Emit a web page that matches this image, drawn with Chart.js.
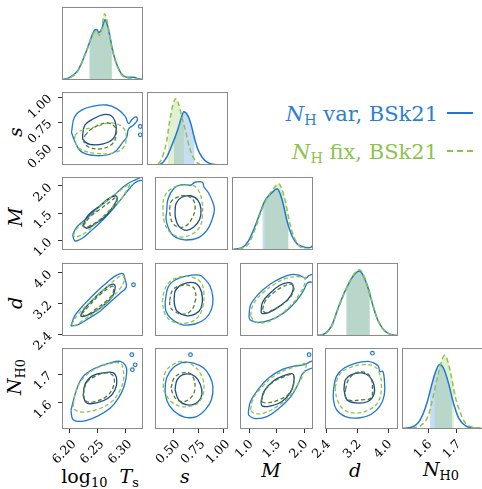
<!DOCTYPE html>
<html>
<head>
<meta charset="utf-8">
<script src="https://cdn.jsdelivr.net/npm/chart.js@4.4.1/dist/chart.umd.min.js"></script>
<style>
html, body { margin: 0; padding: 0; background: #fff; overflow: hidden; }
#fig { position: relative; width: 482px; height: 489px; overflow: hidden; }
#fig canvas { position: absolute; }
.lab { position: absolute; font-family: "DejaVu Serif", serif; font-size: 19px; line-height: 19px; color: #000; white-space: nowrap; }
.sb { font-size: 0.68em; position: relative; top: 0.28em; font-style: normal; }
.rot { transform: translate(-50%, -50%) rotate(-90deg); }
.cx { transform: translateX(-50%); }
.leg { position: absolute; right: 44px; font-family: "DejaVu Serif", serif; font-size: 21px; line-height: 21px; white-space: nowrap; }
.mark { position: absolute; left: 447px; width: 26px; height: 0; }
</style>
</head>
<body>
<div id="fig">
  <div class="leg" style="top:104px;color:#2a7fd3"><i>N</i><span class="sb">H</span> var, BSk21</div>
  <div class="mark" style="top:112px;border-top:2px solid #1f77d0"></div>
  <div class="leg" style="top:142px;color:#8cc34b"><i>N</i><span class="sb">H</span> fix, BSk21</div>
  <div class="mark" style="top:150px;border-top:2px dashed #8cc34b"></div>

  <div class="lab cx" style="left:100px;top:467px">log<span class="sb">10</span>&nbsp;&nbsp;<i>T</i><span class="sb">s</span></div>
  <div class="lab cx" style="left:185px;top:467px"><i>s</i></div>
  <div class="lab cx" style="left:271px;top:461px"><i>M</i></div>
  <div class="lab cx" style="left:355px;top:461px"><i>d</i></div>
  <div class="lab cx" style="left:441px;top:460px"><i>N</i><span class="sb">H0</span></div>

  <div class="lab rot" style="left:15px;top:132px"><i>s</i></div>
  <div class="lab rot" style="left:15px;top:217px"><i>M</i></div>
  <div class="lab rot" style="left:15px;top:303px"><i>d</i></div>
  <div class="lab rot" style="left:15px;top:377px"><i>N</i><span class="sb">H0</span></div>
</div>
<script>
// parameters: log10 Ts, s, M, d, NH0
const ranges = [[6.187, 6.332], [0.32, 1.05], [0.828, 2.163], [2.357, 4.255], [1.510, 1.790]];
const tickVals = [[6.20, 6.25, 6.30], [0.50, 0.75, 1.00], [1.0, 1.5, 2.0], [2.4, 3.2, 4.0], [1.6, 1.7]];
const tickDigits = [2, 2, 1, 1, 1];

// 1D marginals [value, density]
const tsVar = [[6.189,.01],[6.198,.025],[6.216,.14],[6.228,.346],[6.234,.47],[6.240,.60],[6.245,.683],[6.249,.695],[6.253,.655],[6.258,.70],[6.262,.80],[6.264,.83],[6.269,.737],[6.273,.593],[6.277,.428],[6.282,.284],[6.288,.16],[6.294,.078],[6.303,.037],[6.315,.037],[6.324,.016],[6.331,.008]];
const tsFix = [[6.189,.005],[6.198,.02],[6.216,.13],[6.228,.34],[6.234,.46],[6.240,.59],[6.245,.66],[6.248,.675],[6.254,.617],[6.258,.70],[6.261,.85],[6.263,.914],[6.267,.84],[6.273,.58],[6.277,.42],[6.282,.27],[6.288,.15],[6.294,.07],[6.303,.03],[6.315,.02],[6.324,.01],[6.331,.004]];
const sVar = [[0.33,0],[0.376,.002],[0.435,.008],[0.495,.099],[0.554,.305],[0.599,.49],[0.628,.634],[0.652,.724],[0.687,.675],[0.717,.552],[0.747,.366],[0.776,.222],[0.82,.099],[0.865,.037],[0.925,.008],[1.03,0]];
const sFix = [[0.35,0],[0.406,.008],[0.45,.078],[0.495,.305],[0.524,.593],[0.554,.819],[0.578,.901],[0.607,.819],[0.637,.634],[0.673,.428],[0.702,.243],[0.732,.12],[0.767,.037],[0.806,.004],[0.9,0],[1.03,0]];
const mVar = [[0.852,.01],[0.991,.031],[1.10,.126],[1.211,.331],[1.294,.516],[1.376,.681],[1.487,.784],[1.57,.837],[1.625,.763],[1.68,.599],[1.736,.393],[1.819,.188],[1.901,.084],[2.011,.043],[2.094,.031],[2.13,.04],[2.16,.065]];
const mFix = [[0.934,.01],[1.10,.084],[1.211,.29],[1.322,.558],[1.431,.743],[1.542,.867],[1.597,.907],[1.653,.825],[1.708,.66],[1.774,.393],[1.845,.188],[1.928,.064],[2.039,.01],[2.16,0]];
const dVar = [[2.383,.008],[2.54,.033],[2.696,.136],[2.85,.383],[3.006,.609],[3.163,.794],[3.279,.877],[3.356,.897],[3.433,.843],[3.55,.67],[3.666,.424],[3.783,.218],[3.94,.074],[4.096,.02],[4.236,.008]];
const dFix = [[2.383,.005],[2.54,.03],[2.696,.13],[2.85,.375],[3.006,.605],[3.163,.80],[3.279,.895],[3.356,.917],[3.433,.86],[3.55,.68],[3.666,.43],[3.783,.215],[3.94,.07],[4.096,.018],[4.236,.005]];
const nVar = [[1.510,.008],[1.545,.025],[1.573,.115],[1.596,.321],[1.614,.568],[1.628,.732],[1.641,.806],[1.654,.753],[1.671,.568],[1.688,.321],[1.706,.136],[1.729,.041],[1.752,.012],[1.787,.004]];
const nFix = [[1.545,.008],[1.579,.053],[1.602,.177],[1.619,.424],[1.637,.711],[1.648,.856],[1.657,.917],[1.669,.835],[1.683,.609],[1.694,.403],[1.712,.198],[1.729,.074],[1.752,.025],[1.787,.012]];

// 16-84 % intervals
const qVar = [[6.236, 6.276], [0.563, 0.747], [1.332, 1.752], [3.046, 3.590], [1.607, 1.683]];
const qFix = [[6.237, 6.277], [0.509, 0.652], [1.365, 1.762], [3.050, 3.595], [1.623, 1.689]];

// 2D contours [x, y]
const tsS_varOut = [[6.204,.645],[6.209,.794],[6.222,.869],[6.243,.908],[6.267,.920],[6.285,.884],[6.300,.809],[6.306,.735],[6.313,.78],[6.320,.80],[6.322,.77],[6.315,.72],[6.306,.68],[6.303,.60],[6.297,.556],[6.279,.442],[6.249,.413],[6.222,.451],[6.210,.556]];
const tsS_varIn = [[6.224,.63],[6.228,.72],[6.240,.771],[6.261,.824],[6.276,.809],[6.284,.699],[6.279,.586],[6.261,.532],[6.237,.526],[6.225,.571]];
const tsS_fixOut = [[6.210,.615],[6.219,.66],[6.249,.705],[6.273,.741],[6.294,.705],[6.302,.615],[6.297,.496],[6.279,.442],[6.249,.436],[6.219,.481],[6.210,.556]];
const tsS_fixIn = [[6.228,.615],[6.240,.681],[6.267,.741],[6.282,.699],[6.284,.615],[6.276,.526],[6.255,.481],[6.234,.502],[6.226,.556]];
const tsS_blobs = [[6.327,.705],[6.327,.622]];

const tsM_varOut = [[6.206,1.106],[6.213,1.243],[6.231,1.408],[6.255,1.627],[6.279,1.82],[6.297,1.985],[6.309,2.067],[6.327,2.149],[6.345,2.24],[6.35,2.12],[6.321,2.08],[6.306,1.93],[6.291,1.737],[6.273,1.518],[6.255,1.325],[6.237,1.16],[6.222,1.034],[6.210,0.996]];
const tsM_varIn = [[6.224,1.27],[6.234,1.463],[6.255,1.638],[6.270,1.765],[6.282,1.82],[6.286,1.781],[6.282,1.682],[6.267,1.463],[6.249,1.325],[6.232,1.226]];
const tsM_fixOut = [[6.207,1.089],[6.213,1.215],[6.234,1.408],[6.255,1.627],[6.282,1.847],[6.300,1.985],[6.308,2.039],[6.305,1.957],[6.291,1.737],[6.273,1.573],[6.249,1.325],[6.231,1.16],[6.216,1.078]];
const tsM_fixIn = [[6.225,1.27],[6.237,1.435],[6.255,1.573],[6.273,1.71],[6.285,1.792],[6.284,1.682],[6.273,1.545],[6.255,1.38],[6.237,1.27],[6.228,1.243]];
const tsM_blobs = [];

const tsD_varOut = [[6.203,2.614],[6.210,2.886],[6.228,3.198],[6.249,3.509],[6.270,3.782],[6.285,3.938],[6.296,3.977],[6.300,3.821],[6.302,3.626],[6.291,3.47],[6.273,3.237],[6.255,3.003],[6.234,2.809],[6.216,2.653]];
const tsD_varIn = [[6.220,2.886],[6.228,3.081],[6.246,3.354],[6.267,3.626],[6.279,3.704],[6.282,3.587],[6.276,3.354],[6.255,3.081],[6.237,2.925],[6.224,2.863]];
const tsD_fixOut = [[6.204,2.653],[6.216,2.925],[6.240,3.276],[6.267,3.626],[6.285,3.86],[6.296,3.938],[6.298,3.782],[6.291,3.587],[6.273,3.315],[6.249,3.003],[6.225,2.77],[6.210,2.63]];
const tsD_fixIn = [[6.222,2.925],[6.234,3.12],[6.255,3.432],[6.273,3.626],[6.279,3.642],[6.278,3.47],[6.267,3.276],[6.246,3.042],[6.228,2.886]];
const tsD_blobs = [[6.315,3.689]];

const tsN_varOut = [[6.203,1.574],[6.213,1.646],[6.225,1.692],[6.246,1.720],[6.273,1.738],[6.291,1.744],[6.300,1.732],[6.303,1.709],[6.298,1.657],[6.288,1.617],[6.273,1.582],[6.249,1.553],[6.225,1.537],[6.207,1.542]];
const tsN_varIn = [[6.225,1.623],[6.228,1.663],[6.240,1.692],[6.261,1.704],[6.279,1.704],[6.285,1.680],[6.282,1.646],[6.270,1.617],[6.249,1.60],[6.231,1.60]];
const tsN_fixOut = [[6.207,1.594],[6.213,1.646],[6.228,1.692],[6.249,1.720],[6.273,1.736],[6.291,1.738],[6.296,1.720],[6.297,1.680],[6.288,1.634],[6.273,1.60],[6.249,1.577],[6.225,1.568],[6.210,1.577]];
const tsN_fixIn = [[6.225,1.629],[6.231,1.669],[6.246,1.692],[6.267,1.704],[6.279,1.692],[6.279,1.657],[6.267,1.623],[6.246,1.605],[6.231,1.605]];
const tsN_blobs = [[6.312,1.767],[6.318,1.732],[6.313,1.715]];

const sM_varOut = [[0.436,1.518],[0.451,1.765],[0.511,1.957],[0.586,2.023],[0.675,2.012],[0.72,2.067],[0.794,2.067],[0.809,1.985],[0.854,1.875],[0.89,1.737],[0.914,1.573],[0.89,1.38],[0.839,1.188],[0.75,1.051],[0.615,1.012],[0.511,1.078],[0.451,1.243],[0.430,1.408]];
const sM_varIn = [[0.52,1.518],[0.532,1.682],[0.586,1.792],[0.675,1.82],[0.75,1.737],[0.78,1.573],[0.765,1.38],[0.705,1.243],[0.63,1.188],[0.556,1.27],[0.526,1.408]];
const sM_fixOut = [[0.398,1.573],[0.412,1.792],[0.481,1.946],[0.586,2.012],[0.69,2.012],[0.75,1.93],[0.788,1.737],[0.794,1.463],[0.765,1.243],[0.675,1.106],[0.571,1.067],[0.466,1.16],[0.412,1.353]];
const sM_fixIn = [[0.466,1.573],[0.481,1.71],[0.541,1.792],[0.63,1.82],[0.705,1.737],[0.72,1.573],[0.69,1.408],[0.63,1.27],[0.556,1.243],[0.496,1.325],[0.472,1.463]];
const sM_blobs = [];

const sD_varOut = [[0.421,3.237],[0.451,3.626],[0.526,3.821],[0.645,3.922],[0.765,3.938],[0.809,3.86],[0.869,3.665],[0.899,3.354],[0.884,3.042],[0.824,2.809],[0.72,2.669],[0.586,2.653],[0.481,2.809],[0.430,3.003]];
const sD_varIn = [[0.511,3.315],[0.526,3.549],[0.60,3.704],[0.705,3.743],[0.765,3.626],[0.794,3.354],[0.78,3.081],[0.72,2.925],[0.63,2.886],[0.541,3.003],[0.517,3.159]];
const sD_fixOut = [[0.392,3.237],[0.421,3.587],[0.496,3.821],[0.60,3.899],[0.705,3.876],[0.78,3.743],[0.809,3.47],[0.794,3.081],[0.735,2.809],[0.63,2.692],[0.496,2.731],[0.421,2.925]];
const sD_fixIn = [[0.466,3.276],[0.496,3.549],[0.571,3.665],[0.675,3.665],[0.72,3.549],[0.72,3.237],[0.675,3.003],[0.60,2.925],[0.511,3.003],[0.472,3.12]];
const sD_blobs = [];

const sN_varOut = [[0.586,1.740],[0.705,1.738],[0.809,1.720],[0.869,1.692],[0.899,1.657],[0.884,1.611],[0.824,1.577],[0.735,1.553],[0.615,1.551],[0.511,1.571],[0.442,1.605],[0.421,1.646],[0.436,1.686],[0.496,1.720]];
const sN_varIn = [[0.52,1.646],[0.541,1.680],[0.60,1.698],[0.69,1.698],[0.75,1.680],[0.788,1.646],[0.779,1.617],[0.72,1.597],[0.63,1.594],[0.556,1.611]];
const sN_fixOut = [[0.401,1.652],[0.421,1.704],[0.496,1.732],[0.60,1.744],[0.705,1.729],[0.788,1.692],[0.809,1.646],[0.765,1.605],[0.675,1.589],[0.571,1.589],[0.481,1.605],[0.421,1.634]];
const sN_fixIn = [[0.481,1.652],[0.511,1.686],[0.571,1.701],[0.66,1.704],[0.705,1.686],[0.72,1.652],[0.69,1.623],[0.615,1.605],[0.541,1.611],[0.496,1.634]];
const sN_blobs = [[0.675,1.767]];

const mD_varOut = [[0.992,2.848],[1.02,3.159],[1.157,3.432],[1.377,3.704],[1.596,3.876],[1.761,3.953],[1.899,3.938],[2.036,3.86],[2.09,3.93],[2.18,3.95],[2.18,3.78],[2.064,3.743],[2.008,3.587],[1.926,3.393],[1.789,3.159],[1.596,2.925],[1.377,2.77],[1.157,2.708],[1.02,2.77]];
const mD_varIn = [[1.212,2.964],[1.24,3.237],[1.377,3.47],[1.542,3.665],[1.706,3.743],[1.789,3.704],[1.789,3.509],[1.706,3.315],[1.542,3.12],[1.349,2.964],[1.24,2.941]];
const mD_fixOut = [[1.02,2.886],[1.075,3.198],[1.24,3.47],[1.459,3.704],[1.679,3.86],[1.899,3.899],[2.008,3.86],[2.008,3.704],[1.926,3.47],[1.761,3.159],[1.542,2.886],[1.294,2.708],[1.102,2.731]];
const mD_fixIn = [[1.24,3.042],[1.294,3.276],[1.432,3.47],[1.596,3.626],[1.761,3.704],[1.816,3.626],[1.761,3.393],[1.624,3.198],[1.432,3.042],[1.294,2.964]];
const mD_blobs = [];

const mN_varOut = [[0.981,1.571],[1.02,1.605],[1.157,1.646],[1.349,1.686],[1.596,1.715],[1.816,1.727],[1.981,1.732],[2.064,1.738],[2.17,1.745],[2.17,1.718],[2.135,1.720],[1.981,1.704],[1.899,1.669],[1.761,1.623],[1.542,1.582],[1.322,1.553],[1.102,1.546],[0.992,1.557]];
const mN_varIn = [[1.212,1.60],[1.267,1.640],[1.432,1.675],[1.624,1.694],[1.789,1.701],[1.816,1.680],[1.761,1.640],[1.596,1.605],[1.377,1.589],[1.24,1.589]];
const mN_fixOut = [[1.02,1.577],[1.075,1.617],[1.24,1.657],[1.459,1.694],[1.706,1.717],[1.954,1.732],[2.036,1.738],[2.008,1.709],[1.899,1.669],[1.734,1.623],[1.514,1.589],[1.267,1.565],[1.075,1.565]];
const mN_fixIn = [[1.212,1.605],[1.294,1.646],[1.459,1.675],[1.651,1.692],[1.789,1.698],[1.816,1.675],[1.734,1.634],[1.542,1.611],[1.322,1.60]];
const mN_blobs = [[2.091,1.767]];

const dN_varOut = [[2.577,1.646],[2.655,1.692],[2.849,1.720],[3.161,1.738],[3.472,1.744],[3.628,1.738],[3.745,1.727],[3.784,1.709],[3.862,1.709],[3.90,1.680],[3.90,1.629],[3.784,1.589],[3.55,1.560],[3.239,1.548],[2.888,1.553],[2.655,1.577],[2.577,1.611]];
const dN_varIn = [[2.849,1.646],[2.888,1.680],[3.044,1.698],[3.316,1.704],[3.511,1.692],[3.628,1.663],[3.628,1.629],[3.472,1.605],[3.161,1.60],[2.927,1.611]];
const dN_fixOut = [[2.616,1.652],[2.732,1.698],[2.966,1.720],[3.316,1.732],[3.628,1.727],[3.768,1.704],[3.823,1.657],[3.745,1.605],[3.511,1.577],[3.161,1.565],[2.849,1.577],[2.678,1.611]];
const dN_fixIn = [[2.888,1.646],[2.966,1.680],[3.161,1.704],[3.394,1.706],[3.55,1.686],[3.589,1.652],[3.55,1.617],[3.316,1.611],[3.005,1.609],[2.888,1.623]];
const dN_blobs = [[3.589,1.772]];

const histVar = [tsVar, sVar, mVar, dVar, nVar];
const histFix = [tsFix, sFix, mFix, dFix, nFix];
const pairs = {
  '1,0': [tsS_varOut, tsS_varIn, tsS_fixOut, tsS_fixIn, tsS_blobs],
  '2,0': [tsM_varOut, tsM_varIn, tsM_fixOut, tsM_fixIn, tsM_blobs],
  '3,0': [tsD_varOut, tsD_varIn, tsD_fixOut, tsD_fixIn, tsD_blobs],
  '4,0': [tsN_varOut, tsN_varIn, tsN_fixOut, tsN_fixIn, tsN_blobs],
  '2,1': [sM_varOut, sM_varIn, sM_fixOut, sM_fixIn, sM_blobs],
  '3,1': [sD_varOut, sD_varIn, sD_fixOut, sD_fixIn, sD_blobs],
  '4,1': [sN_varOut, sN_varIn, sN_fixOut, sN_fixIn, sN_blobs],
  '3,2': [mD_varOut, mD_varIn, mD_fixOut, mD_fixIn, mD_blobs],
  '4,2': [mN_varOut, mN_varIn, mN_fixOut, mN_fixIn, mN_blobs],
  '4,3': [dN_varOut, dN_varIn, dN_fixOut, dN_fixIn, dN_blobs]
};

const BLUE = '#1f77d0', NAVY = '#184a8c', GREEN = '#8cc34b', DKGREEN = '#557d2e';
const BLUE_FILL = 'rgba(31,119,208,0.25)', GREEN_FILL = 'rgba(140,195,75,0.25)';
const X0 = [62, 147, 232, 317, 402], Y0 = [7, 92, 177, 263, 348], SIZE = 81;
const tickFont = { family: 'DejaVu Serif', size: 12.5 };

const pts = arr => arr.map(p => ({ x: p[0], y: p[1] }));
const loop = arr => pts(arr.concat([arr[0]]));

// clip the shaded interval of the 1D panels to its quantile range
const bandClip = {
  id: 'bandClip',
  beforeDatasetDraw(chart, args) {
    const ds = chart.data.datasets[args.index];
    if (!ds.band) return;
    const a = chart.chartArea, xs = chart.scales.x;
    const l = xs.getPixelForValue(ds.band[0]), r = xs.getPixelForValue(ds.band[1]);
    chart.ctx.save();
    chart.ctx.beginPath();
    chart.ctx.rect(l, a.top, r - l, a.bottom - a.top);
    chart.ctx.clip();
  },
  afterDatasetDraw(chart, args) {
    if (chart.data.datasets[args.index].band) chart.ctx.restore();
  }
};
const frame = {
  id: 'frame',
  afterDraw(chart) {
    const a = chart.chartArea, c = chart.ctx;
    c.save();
    c.strokeStyle = '#8a8a8a';
    c.lineWidth = 1;
    c.strokeRect(a.left + 0.5, a.top + 0.5, a.right - a.left - 1, a.bottom - a.top - 1);
    c.restore();
  }
};
const filler = Chart.registry.getPlugin('filler');
Chart.unregister(filler);
Chart.register(bandClip, frame, filler);

function axis(i, show, range, horizontal, size) {
  return {
    type: 'linear', min: range[0], max: range[1], display: show,
    afterBuildTicks: s => { s.ticks = tickVals[i].map(v => ({ value: v })); },
    afterFit: s => {
      if (horizontal) s.height = size; else s.width = size;
      s.paddingLeft = s.paddingRight = s.paddingTop = s.paddingBottom = 0;
    },
    ticks: {
      callback: v => Number(v).toFixed(tickDigits[i]),
      minRotation: 45, maxRotation: 45, autoSkip: false,
      font: tickFont, color: '#000',
      padding: horizontal ? 4 : 8,
      labelOffset: horizontal ? (tickDigits[i] === 2 ? 5 : 2) : 0
    },
    grid: { drawOnChartArea: false, drawTicks: true, tickLength: 4, color: '#333' },
    border: { display: false }
  };
}

function panel(row, col) {
  const showX = row === 4, showY = col === 0 && row > 0;
  const mL = col === 0 ? 50 : 8, mR = 8, mT = 12, mB = row === 4 ? 50 : 8;
  const cv = document.createElement('canvas');
  cv.width = SIZE + mL + mR;
  cv.height = SIZE + mT + mB;
  cv.style.left = (X0[col] - mL) + 'px';
  cv.style.top = (Y0[row] - mT) + 'px';
  document.getElementById('fig').appendChild(cv);

  let datasets, yScale;
  if (row === col) {
    const v = histVar[col], f = histFix[col];
    const top = 1.1 * Math.max(...v.map(p => p[1]), ...f.map(p => p[1]));
    const curve = { cubicInterpolationMode: 'monotone', pointRadius: 0 };
    datasets = [
      { ...curve, data: pts(v), borderColor: BLUE, borderWidth: 1.5, order: 2 },
      { ...curve, data: pts(f), borderColor: GREEN, borderWidth: 1.5, borderDash: [5, 3], order: 1 },
      { ...curve, data: pts(v), band: qVar[col], fill: 'origin', backgroundColor: BLUE_FILL, borderColor: 'transparent', borderWidth: 0, order: 4 },
      { ...curve, data: pts(f), band: qFix[col], fill: 'origin', backgroundColor: GREEN_FILL, borderColor: 'transparent', borderWidth: 0, order: 3 }
    ];
    yScale = { type: 'linear', min: 0, max: top, display: false };
  } else {
    const c = pairs[row + ',' + col];
    const lineOpt = { tension: 0.4, pointRadius: 0, borderWidth: 1.3 };
    datasets = [
      { ...lineOpt, data: loop(c[0]), borderColor: BLUE, order: 5 },
      { ...lineOpt, data: loop(c[1]), borderColor: NAVY, order: 4 },
      { ...lineOpt, data: loop(c[2]), borderColor: GREEN, borderDash: [4, 2.5], order: 3 },
      { ...lineOpt, data: loop(c[3]), borderColor: DKGREEN, borderDash: [4, 2.5], order: 2 },
      { data: pts(c[4]), showLine: false, pointRadius: 1.8, pointBorderWidth: 1.2, pointBorderColor: BLUE, pointBackgroundColor: 'rgba(0,0,0,0)', order: 1 }
    ];
    yScale = axis(row, showY, ranges[row], false, mL);
  }

  new Chart(cv, {
    type: 'line',
    data: { datasets },
    options: {
      responsive: false,
      animation: false,
      events: [],
      layout: { padding: { left: showY ? 0 : mL, right: mR, top: mT, bottom: showX ? 0 : mB } },
      plugins: { legend: { display: false }, tooltip: { enabled: false } },
      elements: { point: { radius: 0 } },
      scales: {
        x: axis(col, showX, ranges[col], true, mB),
        y: yScale
      }
    }
  });
}

for (let r = 0; r < 5; r++) {
  for (let c = 0; c <= r; c++) panel(r, c);
}
</script>
</body>
</html>
